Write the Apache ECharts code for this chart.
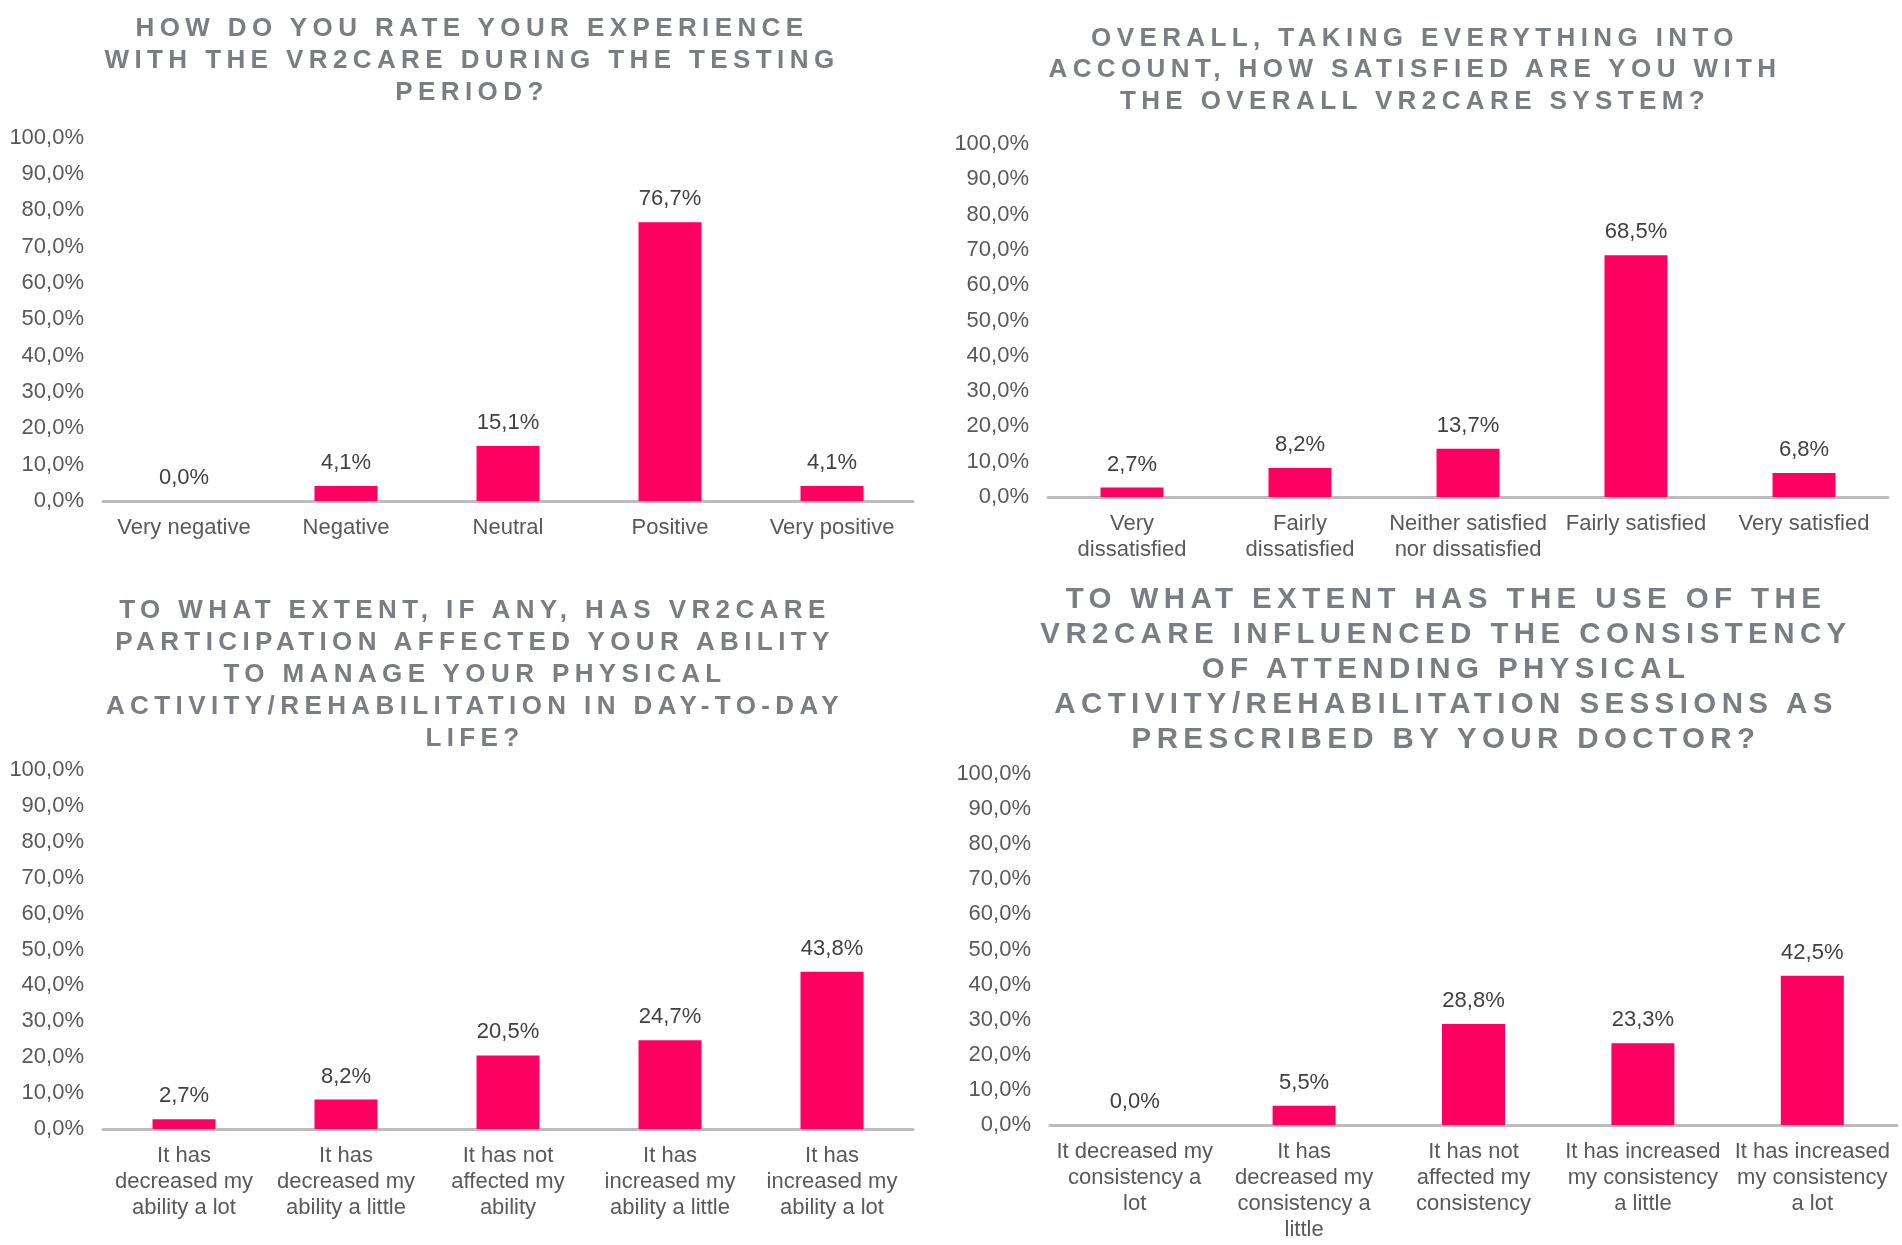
<!DOCTYPE html>
<html>
<head>
<meta charset="utf-8">
<title>VR2CARE survey</title>
<script src="https://cdn.jsdelivr.net/npm/echarts@6/dist/echarts.min.js"></script>
<style>
  html, body { margin: 0; padding: 0; background: #fff; }
  #charts, #titles { position: absolute; left: 0; top: 0; width: 1902px; height: 1245px; }
  #titles { pointer-events: none; }
  /* the original titles are drawn with wide tracking */
  #titles text { letter-spacing: 5.4px; }
</style>
</head>
<body>
<div id="charts"></div>
<div id="titles"></div>
<script>
// ---- data ----
const experienceTitle = [
  "HOW DO YOU RATE YOUR EXPERIENCE",
  "WITH THE VR2CARE DURING THE TESTING",
  "PERIOD?",
];
const experienceLabels = ["Very negative", "Negative", "Neutral", "Positive", "Very positive"];
const experienceValues = [0.0, 4.1, 15.1, 76.7, 4.1];

const satisfactionTitle = [
  "OVERALL, TAKING EVERYTHING INTO",
  "ACCOUNT, HOW SATISFIED ARE YOU WITH",
  "THE OVERALL VR2CARE SYSTEM?",
];
const satisfactionLabels = [
  "Very\ndissatisfied",
  "Fairly\ndissatisfied",
  "Neither satisfied\nnor dissatisfied",
  "Fairly satisfied",
  "Very satisfied",
];
const satisfactionValues = [2.7, 8.2, 13.7, 68.5, 6.8];

const abilityTitle = [
  "TO WHAT EXTENT, IF ANY, HAS VR2CARE",
  "PARTICIPATION AFFECTED YOUR ABILITY",
  "TO MANAGE YOUR PHYSICAL",
  "ACTIVITY/REHABILITATION IN DAY-TO-DAY",
  "LIFE?",
];
const abilityLabels = [
  "It has\ndecreased my\nability a lot",
  "It has\ndecreased my\nability a little",
  "It has not\naffected my\nability",
  "It has\nincreased my\nability a little",
  "It has\nincreased my\nability a lot",
];
const abilityValues = [2.7, 8.2, 20.5, 24.7, 43.8];

const consistencyTitle = [
  "TO WHAT EXTENT HAS THE USE OF THE",
  "VR2CARE INFLUENCED THE CONSISTENCY",
  "OF ATTENDING PHYSICAL",
  "ACTIVITY/REHABILITATION SESSIONS AS",
  "PRESCRIBED BY YOUR DOCTOR?",
];
const consistencyLabels = [
  "It decreased my\nconsistency a\nlot",
  "It has\ndecreased my\nconsistency a\nlittle",
  "It has not\naffected my\nconsistency",
  "It has increased\nmy consistency\na little",
  "It has increased\nmy consistency\na lot",
];
const consistencyValues = [0.0, 5.5, 28.8, 23.3, 42.5];

const yMin = 0;
const yMax = 100;
const yStep = 10;

// ---- styling ----
const FONT = "'Liberation Sans', Arial, sans-serif";
const BAR_COLOR = "#fd0062";
const LABEL_COLOR = "#595959";
const TITLE_COLOR = "#7a7e84";

const panels = [
  { labels: experienceLabels, values: experienceValues, grid: { left: 103, top: 137.5, width: 810, height: 363.5 } },
  { labels: satisfactionLabels, values: satisfactionValues, grid: { left: 1048, top: 144, width: 840, height: 353 } },
  { labels: abilityLabels, values: abilityValues, grid: { left: 103, top: 770, width: 810, height: 359 } },
  { labels: consistencyLabels, values: consistencyValues, grid: { left: 1050, top: 774, width: 847, height: 351 } },
];

function pct(v) {
  return v.toFixed(1).replace(".", ",") + "%";
}

const option = {
  animation: false,
  backgroundColor: "#fff",
  grid: panels.map((p) => p.grid),
  xAxis: panels.map((p, i) => ({
    type: "category",
    gridIndex: i,
    data: p.labels,
    axisTick: { show: false },
    axisLine: { lineStyle: { color: "#bcbcbc", width: 3 } },
    axisLabel: {
      interval: 0,
      margin: 14,
      color: LABEL_COLOR,
      fontFamily: FONT,
      fontSize: 22,
      lineHeight: 26,
    },
  })),
  yAxis: panels.map((p, i) => ({
    type: "value",
    gridIndex: i,
    min: yMin,
    max: yMax,
    interval: yStep,
    splitLine: { show: false },
    axisLine: { show: false },
    axisTick: { show: false },
    axisLabel: {
      margin: 19,
      color: LABEL_COLOR,
      fontFamily: FONT,
      fontSize: 22,
      formatter: (v) => pct(v),
    },
  })),
  series: panels.map((p, i) => ({
    type: "bar",
    xAxisIndex: i,
    yAxisIndex: i,
    data: p.values,
    barWidth: 63,
    itemStyle: { color: BAR_COLOR },
    label: {
      show: true,
      position: "top",
      distance: 12,
      color: "#404040",
      fontFamily: FONT,
      fontSize: 22,
      formatter: (d) => pct(d.value),
    },
  })),
};

const chart = echarts.init(document.getElementById("charts"));
chart.setOption(option);

// titles live in their own svg layer so css letter-spacing can reach them
const titleChart = echarts.init(document.getElementById("titles"), null, { renderer: "svg" });

function titleText(lines, x, y, size, lineHeight) {
  return {
    type: "text",
    x: x,
    y: y,
    style: {
      text: lines.join("\n"),
      fill: TITLE_COLOR,
      font: "bold " + size + "px " + FONT,
      lineHeight: lineHeight,
      align: "center",
      verticalAlign: "top",
    },
  };
}

titleChart.setOption({
  animation: false,
  graphic: [
    titleText(experienceTitle, 472, 11, 26, 32),
    titleText(satisfactionTitle, 1415, 21, 26, 31.5),
    titleText(abilityTitle, 475, 593, 26, 32),
    titleText(consistencyTitle, 1446, 580, 29.5, 35),
  ],
});
</script>
</body>
</html>
